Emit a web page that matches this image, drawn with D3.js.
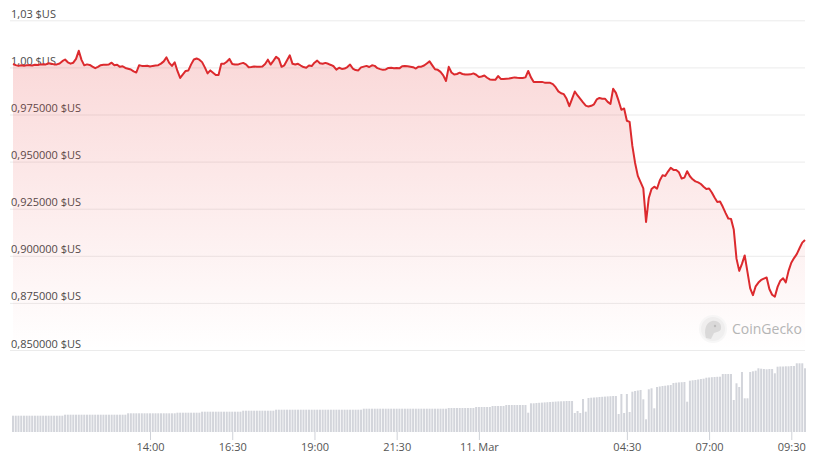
<!DOCTYPE html>
<html>
<head>
<meta charset="utf-8">
<script src="https://cdn.jsdelivr.net/npm/d3@7"></script>
<style>
  html, body { margin: 0; padding: 0; background: #ffffff; }
  svg { display: block; font-family: "Open Sans", "Noto Sans", sans-serif; }
</style>
</head>
<body>
<svg id="chart" width="814" height="467"></svg>
<script>
// ---- DATA (5-minute points, starting 10 Mar 09:50) ----
const startTime = "2024-03-10T09:50:00Z";
const stepMinutes = 5;

const prices = [
  1.0018,1.0012,1.0008,1.0011,1.0009,1.0011,1.0012,1.0010,1.0014,1.0013,
  1.0016,1.0017,1.0016,1.0022,1.0019,1.0016,1.0016,1.0021,1.0033,1.0042,
  1.0027,1.0020,1.0025,1.0045,1.0088,1.0040,1.0011,1.0016,1.0013,1.0004,
  0.9996,1.0003,1.0012,1.0014,1.0014,1.0016,1.0025,1.0012,1.0014,1.0003,
  1.0006,0.9997,0.9993,0.9989,0.9979,0.9973,1.0011,1.0008,1.0008,1.0009,
  1.0005,1.0008,1.0010,1.0012,1.0020,1.0032,1.0053,1.0024,1.0008,1.0027,
  0.9981,0.9944,0.9963,0.9981,0.9984,1.0016,1.0042,1.0047,1.0041,1.0028,
  1.0000,0.9968,0.9984,0.9972,0.9960,0.9960,1.0019,1.0019,1.0030,1.0045,
  1.0018,1.0015,1.0015,1.0020,1.0024,1.0016,1.0001,1.0002,1.0005,1.0003,
  1.0004,1.0005,1.0018,1.0041,1.0015,1.0035,1.0056,1.0045,1.0003,1.0011,
  1.0038,1.0064,1.0019,1.0015,1.0019,1.0010,1.0002,0.9998,1.0010,1.0007,
  1.0025,1.0036,1.0022,1.0019,1.0024,1.0019,1.0013,1.0006,0.9988,0.9998,
  0.9992,0.9994,1.0002,1.0015,0.9994,0.9986,0.9984,1.0000,1.0004,1.0008,
  1.0002,1.0011,1.0008,0.9996,0.9991,0.9987,0.9989,0.9997,0.9998,0.9995,
  0.9997,0.9995,1.0006,1.0008,1.0006,1.0004,1.0001,0.9994,1.0004,1.0004,
  1.0010,1.0021,1.0032,1.0011,0.9990,0.9987,0.9976,0.9958,0.9928,1.0003,
  0.9973,0.9962,0.9965,0.9972,0.9965,0.9962,0.9962,0.9963,0.9968,0.9961,
  0.9949,0.9952,0.9957,0.9945,0.9936,0.9934,0.9934,0.9954,0.9939,0.9938,
  0.9940,0.9941,0.9944,0.9947,0.9945,0.9944,0.9944,0.9947,0.9981,0.9947,
  0.9923,0.9923,0.9923,0.9923,0.9919,0.9918,0.9918,0.9911,0.9895,0.9873,
  0.9863,0.9858,0.9833,0.9794,0.9833,0.9872,0.9851,0.9833,0.9814,0.9797,
  0.9792,0.9796,0.9804,0.9830,0.9838,0.9834,0.9834,0.9817,0.9806,0.9887,
  0.9865,0.9822,0.9775,0.9782,0.9717,0.9711,0.9583,0.9493,0.9424,0.9391,
  0.9358,0.9180,0.9307,0.9355,0.9367,0.9356,0.9400,0.9427,0.9424,0.9447,
  0.9467,0.9456,0.9455,0.9443,0.9410,0.9415,0.9449,0.9422,0.9406,0.9395,
  0.9390,0.9381,0.9367,0.9355,0.9357,0.9336,0.9309,0.9286,0.9288,0.9260,
  0.9228,0.9198,0.9196,0.9140,0.8985,0.8920,0.8957,0.9002,0.8915,0.8827,
  0.8791,0.8838,0.8858,0.8872,0.8879,0.8885,0.8824,0.8793,0.8783,0.8835,
  0.8868,0.8881,0.8859,0.8920,0.8963,0.8988,0.9009,0.9040,0.9070,0.9084
];

// volume in millions $US
const volumes = [
  16.3,16.3,16.3,16.3,16.3,16.3,16.3,16.3,16.3,16.3,
  16.3,16.3,16.3,16.3,16.3,16.3,16.3,16.3,16.3,17.3,
  17.3,17.3,17.3,17.3,17.3,17.3,17.3,17.3,17.3,17.3,
  17.3,17.3,17.3,17.3,17.3,17.3,17.3,17.3,17.3,17.3,
  17.3,17.3,18.7,18.7,18.7,18.7,18.7,18.7,18.7,18.7,
  18.7,18.7,18.7,18.7,18.7,18.7,18.7,18.7,18.7,18.7,
  19.3,19.3,19.3,19.3,19.3,19.3,19.3,19.3,19.3,20.3,
  20.3,20.3,20.3,20.3,20.3,20.3,20.3,20.3,20.3,20.3,
  20.3,20.3,20.3,20.3,21.3,21.3,21.3,21.3,21.3,21.3,
  21.3,21.3,21.3,21.3,21.3,21.3,22.3,22.3,22.3,22.3,
  22.3,22.3,22.3,22.3,22.3,22.3,22.3,22.3,22.3,22.3,
  22.3,22.3,22.3,22.3,22.3,22.3,22.3,22.3,22.3,22.3,
  22.3,22.3,22.3,22.3,22.3,22.3,22.3,22.3,23.3,23.3,
  23.3,23.3,23.3,23.3,23.3,23.3,23.3,23.3,23.3,23.3,
  23.3,23.3,23.3,23.3,23.3,23.3,23.3,23.3,23.3,23.3,
  23.3,23.3,23.3,23.3,23.3,23.3,23.3,23.3,23.3,24.0,
  24.0,24.0,24.0,24.0,24.0,24.0,24.0,24.0,24.0,25.0,
  25.0,25.0,25.0,25.0,25.0,26.0,26.0,26.0,26.0,26.0,
  27.0,27.0,27.0,27.0,27.0,27.0,27.0,27.0,19.3,28.7,
  28.7,29.0,29.2,29.4,29.6,29.8,30.0,30.2,30.4,30.6,
  30.7,30.8,31.0,31.0,31.0,19.0,21.0,19.0,33.0,20.3,
  34.0,34.3,34.5,34.7,35.0,35.2,35.4,35.6,35.8,36.0,
  36.0,18.0,38.0,19.0,38.0,20.0,40.3,41.0,41.5,42.0,
  32.7,12.7,42.7,43.7,23.7,45.0,45.5,46.0,46.3,46.7,
  47.0,49.0,49.3,49.6,49.8,50.0,30.3,51.3,51.7,52.0,
  52.5,53.0,53.3,54.3,54.5,54.8,55.0,55.2,55.3,58.0,
  58.0,58.0,58.0,32.0,48.7,45.0,60.0,33.7,33.7,60.0,
  60.7,61.3,63.7,63.3,63.0,62.7,63.0,63.0,58.7,65.3,
  65.5,65.5,65.7,65.7,66.0,66.0,68.7,68.7,68.7,63.7
];

const yTicks = [0.85, 0.875, 0.9, 0.925, 0.95, 0.975, 1.0, 1.025];
const yTickLabels = ["0,850000 $US","0,875000 $US","0,900000 $US","0,925000 $US",
                     "0,950000 $US","0,975000 $US","1,00 $US","1,03 $US"];

const xTickTimes = ["2024-03-10T14:00:00Z","2024-03-10T16:30:00Z","2024-03-10T19:00:00Z",
                    "2024-03-10T21:30:00Z","2024-03-11T00:00:00Z","2024-03-11T04:30:00Z",
                    "2024-03-11T07:00:00Z","2024-03-11T09:30:00Z"];
const xTickLabels = ["14:00","16:30","19:00","21:30","11. Mar","04:30","07:00","09:30"];

// ---- CHART ----
const t0 = new Date(startTime).getTime();
const data = prices.map((p, i) => ({
  t: new Date(t0 + i * stepMinutes * 60000),
  p: p,
  v: volumes[i]
}));

const svg = d3.select("#chart");
const W = 814, H = 467;
const plotLeft = 10, plotRight = 805;

const x = d3.scaleUtc()
  .domain([data[0].t, data[data.length - 1].t])
  .range([13, 805]);

const y = d3.scaleLinear().domain([0.85, 1.025]).range([350, 20.3]);
const yVol = d3.scaleLinear().domain([0, 70]).range([432, 362]);

// gradient
const defs = svg.append("defs");
const grad = defs.append("linearGradient")
  .attr("id", "areaGrad")
  .attr("gradientUnits", "userSpaceOnUse")
  .attr("x1", 0).attr("x2", 0).attr("y1", 20).attr("y2", 350);
grad.append("stop").attr("offset", "0%").attr("stop-color", "#e63a3a").attr("stop-opacity", 0.22);
grad.append("stop").attr("offset", "100%").attr("stop-color", "#e63a3a").attr("stop-opacity", 0.0);

// gridlines + y labels
const yAxis = d3.axisLeft(y)
  .tickValues(yTicks)
  .tickFormat((d, i) => yTickLabels[i])
  .tickSize(-(plotRight - plotLeft));
const gy = svg.append("g").attr("transform", `translate(${plotLeft},0)`).call(yAxis);
gy.select(".domain").remove();
gy.selectAll(".tick line").attr("stroke", "#ebebeb").attr("stroke-width", 1);
gy.selectAll(".tick text")
  .attr("x", 1)
  .attr("dy", "-3")
  .attr("text-anchor", "start")
  .attr("fill", "#4a4a4a")
  .style("font-size", "11px")
  .style("font-family", "'Open Sans', sans-serif");

// area
const area = d3.area()
  .x(d => x(d.t))
  .y0(350)
  .y1(d => y(d.p));
svg.append("path").datum(data)
  .attr("d", area)
  .attr("fill", "url(#areaGrad)");

// volume bars
svg.append("g").selectAll("rect")
  .data(data)
  .join("rect")
  .attr("x", d => x(d.t) - 1)
  .attr("width", 2)
  .attr("y", d => yVol(d.v))
  .attr("height", d => yVol(0) - yVol(d.v))
  .attr("fill", "#d3d5db");

// line
const line = d3.line()
  .x(d => x(d.t))
  .y(d => y(d.p));
svg.append("path").datum(data)
  .attr("d", line)
  .attr("fill", "none")
  .attr("stroke", "#dc2a2e")
  .attr("stroke-width", 2)
  .attr("stroke-linejoin", "round");

// x axis
const xAxis = d3.axisBottom(x)
  .tickValues(xTickTimes.map(s => new Date(s)))
  .tickFormat((d, i) => xTickLabels[i])
  .tickSize(8);
const gx = svg.append("g").attr("transform", "translate(0,432)").call(xAxis);
gx.select(".domain").remove();
gx.selectAll(".tick line").attr("stroke", "#cfd2d8");
gx.selectAll(".tick text")
  .attr("y", 11)
  .attr("dy", "0.71em")
  .attr("fill", "#555")
  .style("font-size", "11px")
  .style("font-family", "'Open Sans', sans-serif");

// CoinGecko watermark
const wm = svg.append("g").attr("transform", "translate(713,329)").attr("opacity", 0.55);
wm.append("circle").attr("r", 13).attr("fill", "#e4e4e4").attr("stroke", "#f2f2f2").attr("stroke-width", 2);
wm.append("path")
  .attr("d", "M-7,9 C-9,2 -8,-6 -1,-8 C5,-9 9,-5 8,0 C7,3 3,3 1,4 C0,6 -1,8 -2,10 Z")
  .attr("fill", "#bdbdbd");
wm.append("circle").attr("cx", 2).attr("cy", -3).attr("r", 1.2).attr("fill", "#888");
svg.append("text")
  .attr("x", 732).attr("y", 334)
  .text("CoinGecko")
  .attr("fill", "#b5b5b5")
  .style("font-size", "14px")
  .style("font-family", "'Open Sans', sans-serif");
</script>
</body>
</html>
